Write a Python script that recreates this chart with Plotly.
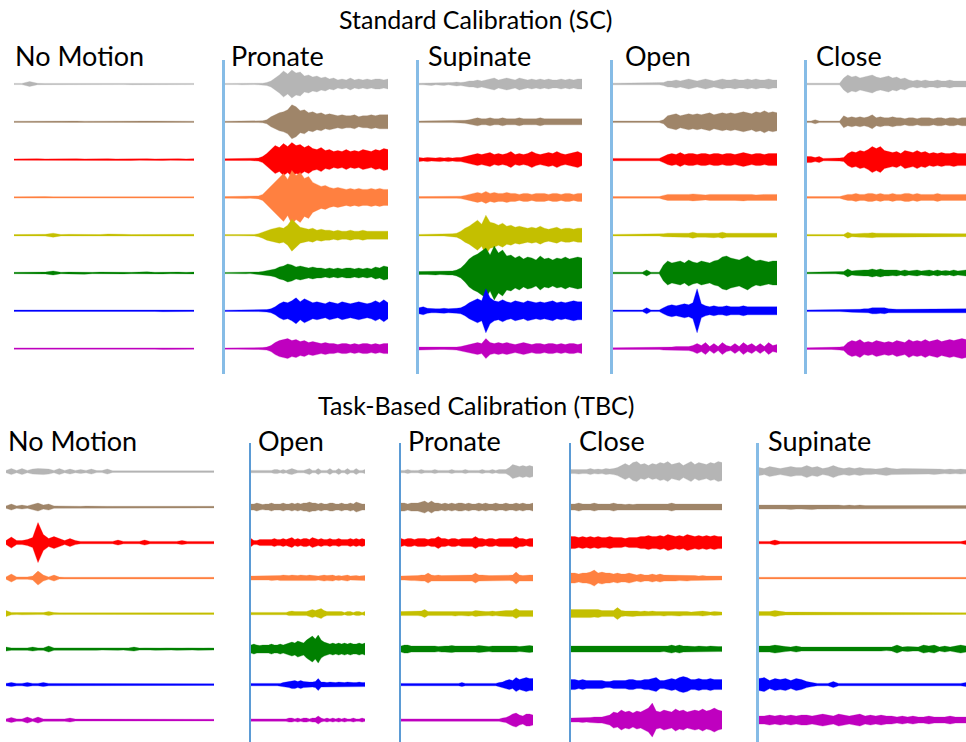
import plotly.graph_objects as go

W, H = 966, 742

# ---------------- data: EMG amplitude envelopes (half peak-to-peak, a.u.) ----------------
# each trace is sampled evenly over its recording window (normalised time 0..1)
CHANNELS = ["EMG 1", "EMG 2", "EMG 3", "EMG 4", "EMG 5", "EMG 6", "EMG 7", "EMG 8"]
SECTION_TITLES = ["Standard Calibration (SC)", "Task-Based Calibration (TBC)"]
SC_MOTIONS = ["No Motion", "Pronate", "Supinate", "Open", "Close"]
TBC_MOTIONS = ["No Motion", "Open", "Pronate", "Close", "Supinate"]

sc_no_motion = [
    [0.6, 0.6, 2.5, 0.7, 0.6, 0.6, 0.7, 0.6, 0.6, 0.7, 0.6, 0.6, 0.7, 0.6, 0.6, 0.7, 0.6, 0.6, 0.7, 0.6, 0.6, 0.6, 0.7, 0.6],
    [0.6, 0.7, 0.6, 0.7, 0.6, 0.7, 0.6, 0.7, 0.7, 0.6, 0.7, 0.6, 0.7, 0.7, 0.6, 0.7, 0.6, 0.7, 0.7, 0.6, 0.7, 0.6, 0.7, 0.6],
    [0.7, 0.9, 0.7, 0.9, 0.7, 0.9, 0.7, 0.9, 0.9, 0.7, 0.9, 0.7, 0.9, 0.7, 0.9, 0.9, 0.7, 0.9, 0.7, 0.9, 0.7, 0.9, 0.7, 0.9],
    [0.7, 0.9, 0.7, 0.9, 0.9, 0.7, 0.7, 0.9, 0.7, 0.9, 0.7, 0.9, 0.7, 0.9, 0.7, 0.7, 0.9, 0.9, 0.7, 0.9, 0.7, 0.9, 0.7, 0.7],
    [0.7, 0.9, 0.7, 0.7, 0.9, 2, 0.7, 0.9, 0.7, 0.7, 0.9, 0.7, 1.2, 0.7, 0.9, 0.7, 0.7, 0.9, 1.2, 0.7, 0.9, 0.7, 0.9, 0.9],
    [0.7, 0.9, 0.7, 0.7, 0.9, 2, 0.7, 0.9, 0.7, 1.2, 0.7, 0.9, 0.7, 0.7, 0.9, 0.7, 0.9, 1.2, 0.7, 0.9, 0.7, 0.9, 0.7, 0.9],
    [0.7, 0.7, 0.9, 0.7, 0.9, 0.7, 0.9, 0.7, 0.7, 0.9, 0.7, 0.9, 0.7, 0.7, 0.9, 0.7, 0.9, 0.7, 0.7, 0.9, 0.7, 0.7, 0.9, 0.7],
    [0.7, 0.7, 0.9, 0.7, 0.9, 0.7, 0.9, 0.7, 0.7, 0.9, 0.7, 0.9, 0.7, 0.7, 0.9, 0.7, 0.9, 0.7, 0.7, 0.9, 0.7, 0.7, 0.9, 0.7],
]
sc_pronate = [
    [0.6, 0.6, 0.6, 0.6, 0.8, 0.6, 0.8, 0.6, 0.8, 0.8, 1.5, 3, 6, 9, 13, 10, 14, 11, 12, 8, 9, 7, 8, 6, 7, 5, 6, 4, 5, 4, 6, 4, 5, 4, 5, 4, 5, 5, 4, 5],
    [0.6, 0.6, 0.6, 0.6, 0.6, 0.8, 0.6, 0.8, 0.8, 1, 2, 5, 7, 9, 10, 12, 17, 15, 11, 12, 9, 10, 8, 9, 7, 8, 7, 6, 7, 6, 6, 7, 5, 6, 6, 7, 6, 7, 7, 7],
    [0.8, 0.8, 0.8, 0.8, 0.8, 1, 0.8, 1, 1.5, 3, 6, 10, 14, 12, 16, 13, 17, 14, 15, 12, 14, 11, 10, 12, 9, 10, 8, 9, 8, 10, 8, 9, 8, 10, 9, 8, 10, 9, 11, 10],
    [0.8, 0.8, 0.8, 0.8, 0.8, 1, 0.8, 1, 1.5, 3, 7, 11, 16, 20, 24, 18, 27, 22, 25, 19, 21, 15, 13, 11, 12, 10, 9, 10, 9, 8, 9, 8, 9, 8, 8, 9, 8, 9, 8, 8],
    [0.6, 0.6, 0.6, 0.6, 0.6, 0.8, 0.6, 0.8, 1.5, 3, 5, 6, 7, 8, 7, 10, 16, 12, 8, 7, 6, 7, 5, 6, 5, 5, 4, 5, 4, 4, 5, 4, 4, 5, 4, 4, 4, 4, 4, 4],
    [0.6, 0.6, 0.6, 0.6, 0.6, 0.8, 0.6, 0.8, 1, 1.5, 2.5, 3, 4, 6, 7, 9, 8, 6, 7, 6, 5, 6, 5, 5, 4, 5, 4, 5, 4, 5, 5, 4, 5, 4, 5, 4, 6, 5, 7, 6],
    [0.6, 0.6, 0.6, 0.6, 0.6, 0.8, 0.6, 0.8, 0.8, 0.8, 1.2, 2, 4, 7, 9, 8, 10, 13, 9, 12, 10, 8, 9, 8, 7, 9, 8, 7, 9, 8, 7, 8, 9, 8, 7, 8, 10, 8, 11, 8],
    [0.6, 0.6, 0.6, 0.6, 0.6, 0.8, 0.6, 0.8, 0.8, 1, 1.5, 3, 6, 8, 9, 10, 8, 9, 7, 8, 6, 7, 6, 5, 6, 5, 5, 4, 5, 5, 4, 5, 4, 5, 5, 4, 5, 4, 5, 5],
]
sc_supinate = [
    [0.8, 0.8, 0.8, 1.5, 0.8, 0.8, 1.5, 0.8, 1.5, 2, 1.5, 2, 3, 3, 4, 3, 4, 5, 6, 4, 5, 6, 5, 4, 6, 5, 4, 5, 4, 5, 4, 5, 4, 4, 5, 4, 5, 4, 5, 5],
    [0.8, 0.8, 0.8, 0.8, 0.8, 0.8, 0.8, 0.8, 0.8, 0.8, 1.2, 1.5, 2, 3, 4, 3, 3, 4, 3, 3, 4, 3, 3, 3, 4, 3, 3, 3, 3, 4, 3, 3, 3, 3, 3, 3, 3, 3, 3, 3],
    [2, 1.5, 2, 1.5, 1.5, 2, 1.5, 2, 1.5, 2, 2, 3, 4, 5, 6, 5, 6, 7, 5, 6, 5, 6, 8, 5, 6, 5, 6, 8, 6, 5, 6, 7, 6, 8, 6, 5, 6, 7, 8, 6],
    [0.8, 0.8, 0.8, 0.8, 0.8, 0.8, 0.8, 0.8, 0.8, 0.8, 1.2, 2, 3, 4, 5, 4, 6, 4, 5, 4, 4, 5, 4, 4, 3, 4, 4, 3, 4, 4, 4, 3, 4, 4, 3, 4, 4, 3, 4, 4],
    [0.8, 0.8, 0.8, 0.8, 0.8, 0.8, 0.8, 1.2, 1.5, 2, 4, 7, 9, 12, 15, 11, 20, 13, 12, 10, 12, 9, 10, 8, 9, 8, 7, 8, 7, 9, 7, 6, 7, 8, 6, 7, 7, 6, 7, 7],
    [1.5, 1.5, 1.5, 1.5, 2, 1.5, 1.5, 2, 2, 3, 5, 9, 14, 17, 19, 22, 25, 18, 27, 20, 23, 17, 18, 15, 17, 14, 16, 15, 13, 17, 14, 15, 13, 15, 14, 16, 14, 15, 16, 15],
    [3, 4, 2.5, 2, 2, 2, 2.5, 2, 2, 2.5, 3, 5, 8, 10, 12, 10, 22, 13, 10, 9, 11, 9, 8, 10, 9, 8, 10, 9, 8, 9, 8, 9, 10, 8, 9, 8, 9, 10, 9, 9],
    [1.5, 1.5, 0.8, 0.8, 0.8, 0.8, 0.8, 0.8, 1.2, 1.5, 2, 3, 4, 5, 6, 5, 10, 6, 5, 6, 5, 6, 5, 4, 5, 6, 5, 4, 5, 5, 4, 5, 5, 4, 5, 4, 5, 5, 4, 5],
]
sc_open = [
    [0.8, 0.8, 0.8, 0.8, 0.8, 0.8, 0.8, 0.8, 0.8, 0.8, 0.8, 0.8, 1.5, 3, 3, 4, 3, 4, 5, 4, 3, 4, 5, 4, 3, 4, 5, 4, 4, 5, 4, 4, 5, 4, 5, 4, 4, 5, 4, 4],
    [0.8, 0.8, 0.8, 0.8, 0.8, 0.8, 0.8, 0.8, 0.8, 0.8, 0.8, 0.8, 2, 6, 7, 8, 6, 7, 8, 7, 8, 7, 8, 9, 7, 8, 9, 8, 9, 8, 9, 10, 9, 8, 10, 9, 11, 9, 10, 9],
    [1.2, 1.2, 1.2, 1.2, 1.2, 1.2, 1.2, 1.2, 1.2, 1.2, 1.2, 1.2, 3, 5, 6, 5, 7, 5, 6, 6, 5, 6, 6, 5, 6, 6, 5, 6, 6, 5, 6, 7, 6, 5, 6, 6, 5, 6, 6, 6],
    [0.8, 0.8, 0.8, 0.8, 0.8, 0.8, 0.8, 0.8, 0.8, 0.8, 0.8, 0.8, 2, 3, 3, 3, 2.5, 3, 3, 3.5, 3, 3, 2.5, 3, 3, 3.5, 3, 3, 3, 3, 3, 3.5, 3, 3, 2.5, 3, 3, 3, 3, 3],
    [0.8, 0.8, 0.8, 0.8, 0.8, 0.8, 0.8, 0.8, 0.8, 0.8, 0.8, 0.8, 1.5, 2, 2, 2, 2, 2, 2, 3, 2, 2, 2, 2, 2.5, 2, 3, 2, 2, 2, 2, 2, 2, 2, 2, 2, 2, 2, 2, 2],
    [0.8, 0.8, 0.8, 0.8, 0.8, 0.8, 0.8, 0.8, 3, 0.8, 0.8, 0.8, 8, 12, 10, 11, 12, 10, 13, 11, 10, 12, 11, 10, 12, 13, 16, 17, 15, 14, 13, 15, 17, 14, 12, 13, 12, 11, 12, 12],
    [0.8, 0.8, 0.8, 0.8, 0.8, 0.8, 0.8, 0.8, 3, 0.8, 0.8, 0.8, 3, 5, 6, 5, 6, 7, 6, 8, 22, 7, 5, 4, 5, 4, 4, 5, 4, 4, 4, 5, 4, 4, 4, 4, 4, 4, 4, 4],
    [0.8, 0.8, 0.8, 0.8, 0.8, 0.8, 0.8, 0.8, 0.8, 0.8, 0.8, 0.8, 1.5, 1.5, 1.5, 2, 2, 2, 2, 3, 5, 3, 6, 2, 5, 2, 6, 3, 2, 5, 2, 6, 3, 5, 2, 5, 2, 6, 3, 4],
]
sc_close = [
    [0.8, 0.8, 0.8, 0.8, 0.8, 0.8, 0.8, 0.8, 0.8, 6, 9, 7, 8, 6, 7, 8, 9, 7, 6, 7, 8, 6, 7, 5, 6, 4, 3, 4, 3, 4, 3, 3, 4, 3, 3, 4, 3, 3, 3, 3],
    [0.8, 0.8, 2, 0.8, 0.8, 0.8, 0.8, 0.8, 0.8, 6, 4, 5, 4, 5, 4, 5, 7, 4, 5, 4, 4, 5, 4, 4, 3, 4, 4, 3, 4, 4, 4, 3, 4, 4, 3, 4, 4, 3, 4, 4],
    [3, 3, 2, 3, 1.2, 1.2, 1.2, 1.2, 1.5, 2, 6, 8, 7, 9, 8, 10, 13, 11, 13, 9, 8, 7, 8, 6, 9, 8, 7, 9, 7, 8, 6, 7, 6, 7, 6, 6, 7, 6, 6, 6],
    [0.8, 0.8, 0.8, 0.8, 0.8, 0.8, 0.8, 0.8, 0.8, 2, 3, 3, 4, 3, 3, 4, 4, 3, 4, 3, 3, 4, 3, 3, 4, 4, 3, 4, 3, 3, 3, 3, 4, 3, 3, 3, 3, 3, 3, 3],
    [0.8, 0.8, 0.8, 0.8, 0.8, 0.8, 0.8, 0.8, 0.8, 0.8, 3, 1.5, 1.5, 2, 2, 2, 2.5, 2, 2, 2, 1.5, 2, 1.5, 1.5, 2, 1.5, 2, 1.5, 1.5, 2, 1.5, 2, 1.5, 1.5, 2, 1.5, 1.5, 2, 1.5, 1.5],
    [0.8, 0.8, 0.8, 0.8, 0.8, 0.8, 0.8, 0.8, 0.8, 1.5, 4, 2, 2.5, 3, 3, 3, 4, 3, 4, 3, 3, 2.5, 3, 2, 3, 2, 2.5, 3, 2, 2.5, 3, 2, 3, 2, 2.5, 2, 3, 2, 2.5, 3],
    [0.8, 0.8, 0.8, 0.8, 0.8, 0.8, 0.8, 0.8, 0.8, 0.8, 1.2, 1.5, 1.5, 1.5, 2, 2, 3, 3, 2.5, 3, 2, 1.5, 1.5, 1.5, 1.5, 2, 1.5, 1.5, 1.5, 1.5, 2, 1.5, 1.5, 1.5, 2, 1.5, 1.5, 2, 2, 2],
    [0.8, 0.8, 0.8, 0.8, 0.8, 0.8, 0.8, 0.8, 1.5, 2, 6, 8, 7, 9, 6, 7, 6, 8, 7, 6, 7, 6, 8, 7, 6, 9, 7, 8, 7, 9, 7, 8, 9, 7, 8, 9, 8, 9, 10, 9],
]

tbc_no_motion = [
    [1.2, 3, 1.2, 3, 1.2, 2.5, 3, 3, 2.5, 1.2, 3, 1.2, 2.5, 1.2, 2, 1.2, 2.5, 1, 1, 2.5, 0.8, 0.8, 0.8, 0.8, 0.8, 0.8, 0.8, 0.8, 0.8, 0.8, 0.8, 0.8, 0.8, 0.8, 0.8, 0.8, 0.8, 0.8, 0.8, 0.8],
    [1.2, 3, 1.2, 2, 1.2, 2.5, 4, 2, 3, 1.2, 1, 0.8, 1, 0.8, 0.8, 1, 0.8, 0.8, 1, 0.8, 0.8, 0.8, 1, 0.8, 0.8, 0.8, 1, 0.8, 0.8, 0.8, 0.8, 1, 0.8, 0.8, 0.8, 0.8, 0.8, 0.8, 0.8, 0.8],
    [2, 5.5, 2, 2, 3, 5, 20, 8, 4, 6, 4, 2, 4, 2, 1.2, 1.2, 1.2, 1.2, 1.2, 1.2, 1.2, 2.5, 1.2, 1.2, 1.2, 1.2, 2.5, 1.2, 1.2, 1.2, 1.2, 1.2, 1.2, 2, 1.2, 1.2, 1.2, 1.2, 1.2, 1.2],
    [1.2, 4, 1.2, 1.2, 1.2, 2, 7, 3, 1.2, 3, 1, 0.8, 1, 0.8, 0.8, 0.8, 1, 0.8, 0.8, 0.8, 0.8, 0.8, 0.8, 0.8, 0.8, 0.8, 0.8, 0.8, 0.8, 0.8, 0.8, 0.8, 0.8, 0.8, 0.8, 0.8, 0.8, 0.8, 0.8, 0.8],
    [3, 1.2, 1, 1.2, 1, 1.2, 1, 1, 2, 1, 0.8, 0.8, 0.8, 0.8, 0.8, 0.8, 0.8, 0.8, 0.8, 0.8, 0.8, 0.8, 0.8, 0.8, 0.8, 0.8, 0.8, 0.8, 0.8, 0.8, 0.8, 0.8, 0.8, 0.8, 0.8, 0.8, 0.8, 0.8, 0.8, 0.8],
    [2, 1.2, 1.2, 1.2, 1.2, 2, 1.2, 1.2, 3, 1.2, 1.2, 1, 1.2, 1, 1.2, 1, 1.2, 1.2, 1, 1.2, 1, 1.2, 1, 1.2, 2, 1, 1.2, 1, 1.2, 1, 1.2, 1, 1.2, 1, 1.2, 1, 1.2, 1, 1.2, 1],
    [1.2, 2, 1.2, 1.2, 2, 1.2, 1.2, 2, 1.2, 1.2, 1, 0.8, 1, 0.8, 0.8, 1, 0.8, 1, 0.8, 0.8, 1, 0.8, 0.8, 1, 0.8, 0.8, 1, 0.8, 0.8, 1, 0.8, 0.8, 1, 0.8, 0.8, 0.8, 0.8, 0.8, 0.8, 0.8],
    [1.2, 2.5, 1.2, 1.2, 3, 1.2, 3, 1.2, 1.2, 1.2, 1.2, 1.2, 2, 1, 1, 1, 0.8, 0.8, 0.8, 0.8, 0.8, 0.8, 0.8, 0.8, 0.8, 0.8, 0.8, 0.8, 0.8, 0.8, 0.8, 0.8, 0.8, 0.8, 0.8, 0.8, 0.8, 0.8, 0.8, 0.8],
]
tbc_open = [
    [1.2, 1.2, 1.2, 1.2, 1.2, 1.2, 1.2, 1.2, 2, 2, 1.2, 2, 1.2, 2.5, 3, 2, 1.2, 1.2, 1.2, 2, 3, 1.2, 1.2, 3, 1.2, 1.2, 1.2, 3, 1.2, 1.2, 3, 1.2, 1.2, 3, 1.2, 1.2, 3, 1.2, 1.2, 2],
    [3, 3, 4, 3, 2.5, 3, 3, 4, 3, 3, 3, 4, 3, 3, 4, 3, 4, 3, 4, 4, 5, 4, 4, 3, 4, 3, 3, 4, 4, 3, 3, 4, 3, 3, 4, 3, 5, 4, 3, 3],
    [4, 2, 2, 3, 3, 3, 3, 3, 4, 3, 3, 4, 3, 4, 5, 3, 4, 3, 4, 4, 3, 5, 4, 3, 4, 3, 3, 4, 3, 3, 4, 3, 3, 3, 4, 3, 4, 3, 4, 3],
    [2, 2, 2.5, 2, 2.5, 2, 2, 2.5, 2.5, 2, 2.5, 3, 2.5, 2.5, 3, 2.5, 2.5, 3, 2.5, 2.5, 3, 2.5, 2.5, 2, 2.5, 3, 2.5, 2.5, 3, 2, 2.5, 2, 2.5, 3, 2, 2.5, 2.5, 2, 2.5, 2.5],
    [1.2, 1.2, 1.2, 1.2, 1.2, 1.2, 1.2, 1.2, 1.2, 1.2, 1.2, 1.2, 1.2, 2, 2.5, 2, 2, 2, 2, 2, 3, 4, 3, 4, 5, 3, 2, 2, 2, 2, 2, 2, 1.2, 2, 2, 1.2, 2, 2, 1.2, 2],
    [4, 5, 4, 3.5, 4, 4, 4, 5, 4, 4, 5, 4, 5, 6, 7, 6, 8, 7, 6, 9, 11, 13, 10, 14, 9, 7, 6, 5, 6, 5, 6, 5, 6, 5, 6, 5, 5, 6, 5, 6],
    [1.2, 1.2, 1.2, 1.2, 1.2, 1.2, 1.2, 1.2, 1.2, 1.2, 1.2, 2, 2.5, 3, 4, 4, 3, 4, 3, 2.5, 2.5, 2.5, 3, 6, 2.5, 2.5, 2, 2.5, 2, 2, 2.5, 2, 2, 2.5, 2, 2, 2, 2.5, 2, 2],
    [1.2, 1.2, 1.2, 1.2, 1.2, 1.2, 1.2, 1.2, 1.2, 1.2, 1.2, 1.2, 1.2, 2, 2, 1.2, 2, 1.2, 2, 2, 1.2, 2, 2, 4, 2, 1.2, 2, 1.2, 2, 1.2, 2, 1.2, 2, 1.2, 1.2, 2, 1.2, 1.2, 2, 1.2],
]
tbc_pronate = [
    [1.2, 1.2, 2, 1.2, 1.2, 1.2, 2, 1.2, 1.2, 1.2, 2, 1.2, 1.2, 1.2, 1.2, 2, 1.2, 1.2, 1.2, 2, 1.2, 1.2, 1.2, 1.2, 2, 1.2, 1.2, 2, 1.2, 2, 2, 2, 4, 7, 6, 5, 6, 5, 6, 5],
    [4, 4, 3, 4, 4, 4, 5, 6, 4, 6, 4, 4, 3, 4, 3, 4, 3, 4, 4, 3, 4, 3, 3, 4, 3, 4, 3, 3, 4, 3, 3, 4, 3, 3, 4, 3, 4, 3, 3, 4],
    [4, 3, 4, 4, 3, 4, 4, 4, 3, 4, 4, 6, 4, 4, 3, 4, 4, 3, 4, 4, 4, 4, 6, 4, 4, 3, 4, 4, 3, 4, 4, 4, 4, 4, 6, 4, 4, 3, 4, 4],
    [2, 2, 2, 2.5, 2.5, 2.5, 3, 3, 5, 3, 2.5, 3, 2.5, 2.5, 2.5, 2.5, 2.5, 3, 2.5, 3, 3, 3, 5, 3, 3, 2.5, 2.5, 2.5, 2.5, 2.5, 2.5, 2.5, 2.5, 3, 6, 3, 2.5, 3, 3, 3],
    [2, 2, 2, 2, 2, 2, 2.5, 4, 2, 2, 2, 2, 2, 2, 2, 2, 2.5, 2, 2, 2, 2.5, 2, 3, 2.5, 2, 2, 2, 2.5, 2, 2.5, 2.5, 3, 3, 3, 5, 3, 3, 3, 3, 3],
    [3, 4, 4, 3, 3, 3, 3, 3.5, 3, 3, 3, 2.5, 3, 3, 3, 3.5, 3, 3, 2.5, 3, 3, 3, 3, 3.5, 3, 3, 2.5, 3, 3, 3, 3, 3, 3.5, 3, 3, 2.5, 3, 3, 3.5, 3],
    [1.2, 1.2, 1.2, 1.2, 1.2, 1.2, 1.2, 1.2, 1.2, 1.2, 1.2, 1.2, 1.2, 1.2, 1.2, 1.2, 1.2, 1.2, 2, 1.2, 1.2, 1.2, 1.2, 1.2, 1.2, 1.2, 1.2, 1.2, 1.2, 2, 2.5, 4, 5, 4, 7, 5, 6, 7, 6, 6],
    [1.2, 1.2, 1.2, 1.2, 1.2, 1.2, 1.2, 1.2, 1.2, 1.2, 1.2, 1.2, 1.2, 1.2, 1.2, 1.2, 1.2, 1.2, 1.2, 1.2, 1.2, 1.2, 1.2, 1.2, 1.2, 1.2, 1.2, 1.2, 1.2, 1.2, 2, 2.5, 4, 6, 7, 5, 4, 6, 6, 5],
]
tbc_close = [
    [2, 2, 2.5, 2, 2, 3, 2, 2.5, 2, 3, 2.5, 3, 4, 6, 8, 6, 9, 10, 7, 8, 6, 8, 7, 9, 8, 10, 7, 8, 9, 6, 8, 10, 7, 9, 8, 7, 9, 8, 10, 9],
    [3, 3, 4, 3, 3, 3, 4, 3, 3, 3, 3, 4, 3, 3, 2.5, 3, 2.5, 3, 3, 3, 3, 3, 2.5, 3, 3, 3, 4, 3, 3, 3, 3, 3, 3, 3, 3, 2.5, 3, 3, 3, 3],
    [6, 6, 5, 6, 5, 6, 5, 6, 5, 5, 6, 5, 5, 5, 4, 5, 5, 5, 6, 6, 7, 6, 6, 7, 6, 8, 7, 6, 7, 6, 8, 7, 6, 7, 6, 7, 6, 7, 6, 6],
    [5, 5, 4, 5, 5, 6, 8, 5, 6, 5, 5, 4, 5, 4, 4, 5, 4, 3, 4, 3, 3, 4, 3, 4, 3, 3, 3, 3, 2.5, 2.5, 3, 2.5, 2.5, 2, 2.5, 2, 2, 2, 2, 2],
    [4, 4, 4, 3.5, 4, 4, 3.5, 4, 3, 3, 3, 3, 6, 3, 2.5, 2.5, 3, 2.5, 2, 2.5, 2, 2.5, 2, 2, 2.5, 2, 2, 2, 2.5, 2, 2, 1.5, 2, 2, 2.5, 2, 1.5, 2, 2, 1.5],
    [3, 3, 3, 3, 3, 2.5, 3, 2.5, 2.5, 3, 2.5, 2.5, 3, 2.5, 3, 2.5, 2.5, 3, 3, 2.5, 3, 2.5, 3, 3, 2.5, 3, 4, 3, 4, 3, 3, 2.5, 2.5, 3, 2.5, 2.5, 3, 2.5, 2.5, 2.5],
    [5, 5, 4, 5, 4, 4, 4, 4, 4, 3, 3, 4, 4, 4, 4, 5, 5, 4, 4, 5, 5, 6, 7, 4, 4, 5, 6, 5, 7, 8, 7, 5, 5, 6, 5, 5, 6, 5, 5, 5],
    [2, 2, 2, 2.5, 2, 2.5, 3, 3, 3, 4, 5, 8, 7, 10, 8, 9, 7, 9, 8, 10, 12, 17, 9, 8, 10, 9, 8, 11, 9, 10, 8, 9, 10, 9, 11, 9, 10, 12, 10, 9],
]
tbc_supinate = [
    [4, 3, 5, 4, 3, 4, 5, 4, 4, 6, 4, 5, 3, 4, 6, 4, 3, 4, 3, 4, 3, 3, 2.5, 3, 4, 3, 2.5, 3, 3, 2.5, 3, 2.5, 2.5, 3, 2.5, 2, 2.5, 2, 2.5, 2],
    [2, 2, 2.5, 2, 2, 2, 2.5, 2, 2, 2, 2.5, 2, 2, 2, 2, 2, 1.5, 2, 1.5, 2, 1.5, 1.5, 2, 1.5, 1.5, 2, 1.5, 1.5, 1.5, 2, 1.5, 1.5, 1.5, 1.5, 2, 1.5, 1.5, 1.5, 1.5, 1.5],
    [1.2, 1.2, 1.2, 2.5, 1.2, 1, 1, 1, 1, 1, 1, 1, 1, 1, 1, 1, 1, 1, 1, 1, 1, 1, 1, 1, 1, 1, 1, 1, 1, 1, 1, 1, 1, 1, 1, 1, 1, 1, 1, 2],
    [0.8, 0.8, 1, 0.8, 0.8, 1, 0.8, 0.8, 0.8, 1, 0.8, 0.8, 0.8, 0.8, 1, 0.8, 0.8, 0.8, 0.8, 0.8, 1, 0.8, 0.8, 0.8, 0.8, 0.8, 0.8, 1, 0.8, 0.8, 0.8, 0.8, 0.8, 0.8, 0.8, 0.8, 0.8, 0.8, 0.8, 0.8],
    [2, 2, 2, 3, 2, 1.5, 1.5, 1.5, 1.5, 1.5, 1, 1, 1, 1, 1, 0.8, 0.8, 1, 0.8, 0.8, 0.8, 1, 0.8, 0.8, 0.8, 0.8, 1, 0.8, 0.8, 0.8, 0.8, 0.8, 1, 0.8, 0.8, 0.8, 0.8, 0.8, 0.8, 0.8],
    [3, 3, 3, 4, 3, 2.5, 2, 3, 2, 2, 2, 1.5, 2, 1.5, 2, 1.5, 2, 1.5, 2, 1.5, 2, 1.5, 2, 2, 1.5, 2, 4, 2, 2.5, 2, 2, 4, 3, 4, 2, 3, 2, 3, 4, 3],
    [6, 7, 4, 6, 5, 6, 4, 6, 5, 3, 2, 1.2, 1.2, 1.2, 3, 1.2, 1.2, 1.2, 1.2, 1.2, 1.2, 1.2, 1.2, 1.2, 1.2, 1.2, 1.2, 1.2, 1.2, 1.2, 1.2, 1.2, 1.2, 1.2, 1.2, 1.2, 1.2, 1.2, 1.2, 2],
    [4, 4, 5, 4, 5, 4, 5, 4, 5, 5, 4, 5, 6, 5, 4, 6, 5, 4, 5, 6, 4, 5, 4, 5, 4, 4, 3, 4, 3, 4, 3, 3, 4, 3, 3, 3, 4, 3, 3, 3],
]

# ---------------- styles / layout ----------------
COLORS = ["#b5b5b5", "#9f8569", "#ff0000", "#ff8040", "#c4bf00", "#008000", "#0000ff", "#bf00bf"]
FONT = "Lato"
LIGHT_BLUE, MID_BLUE = "#86bce6", "#5b9bd5"

# (section, title, data, x-start px, x-end px, axis line (color, width) or None, label x px)
panels = [
    (0, SC_MOTIONS[0], sc_no_motion, 14, 194, None, 13),
    (0, SC_MOTIONS[1], sc_pronate, 225, 388, (LIGHT_BLUE, 3), 229),
    (0, SC_MOTIONS[2], sc_supinate, 419, 582, (LIGHT_BLUE, 3), 426),
    (0, SC_MOTIONS[3], sc_open, 613, 777, (LIGHT_BLUE, 3), 623),
    (0, SC_MOTIONS[4], sc_close, 807, 966, (LIGHT_BLUE, 3), 814),
    (1, TBC_MOTIONS[0], tbc_no_motion, 6, 214, None, 6),
    (1, TBC_MOTIONS[1], tbc_open, 251, 365, (MID_BLUE, 2), 256),
    (1, TBC_MOTIONS[2], tbc_pronate, 401, 533, (MID_BLUE, 2), 406),
    (1, TBC_MOTIONS[3], tbc_close, 571, 722, (MID_BLUE, 2), 577),
    (1, TBC_MOTIONS[4], tbc_supinate, 759, 966, (LIGHT_BLUE, 3), 766),
]
# section geometry in px: (panel top, panel bottom, first baseline, channel spacing, label y, title y)
SECT = [
    (60, 374, 84.0, 37.8, 56, 19),
    (443, 742, 471.6, 35.5, 440, 405),
]

fig = go.Figure()
for i, (sec, title, data, x0, x1, line, lx) in enumerate(panels):
    n = i + 1
    xa = "x" if n == 1 else f"x{n}"
    ya = "y" if n == 1 else f"y{n}"
    top, bot, b0, sp, ly, ty = SECT[sec]
    for k, amps in enumerate(data):
        base = -k * sp
        m = len(amps) - 1
        t = [j / m for j in range(len(amps))]
        xs = t + t[::-1] + [t[0]]
        ys = [base + a for a in amps] + [base - a for a in amps[::-1]] + [base + amps[0]]
        fig.add_trace(go.Scatter(
            x=xs, y=ys, xaxis=xa, yaxis=ya, mode="lines", fill="toself",
            fillcolor=COLORS[k], line=dict(color=COLORS[k], width=0.3),
            name=f"{title} {CHANNELS[k]}", showlegend=False, hoverinfo="skip",
        ))
    xkey = "xaxis" if n == 1 else f"xaxis{n}"
    ykey = "yaxis" if n == 1 else f"yaxis{n}"
    fig.layout[xkey] = dict(
        domain=[x0 / W, x1 / W], range=[0, 1], anchor=ya,
        visible=False, fixedrange=True,
    )
    ycfg = dict(
        domain=[1 - bot / H, 1 - top / H], range=[-(bot - b0), -(top - b0)], anchor=xa,
        showline=line is not None, showgrid=False, zeroline=False,
        showticklabels=False, ticks="", fixedrange=True,
    )
    if line is not None:
        ycfg.update(linecolor=line[0], linewidth=line[1])
    fig.layout[ykey] = ycfg
    fig.add_annotation(text=title, x=lx / W, y=1 - ly / H, xref="paper", yref="paper",
                       xanchor="left", yanchor="middle", showarrow=False,
                       font=dict(family=FONT, size=27, color="black"))

for sec, t in enumerate(SECTION_TITLES):
    fig.add_annotation(text=t, x=476 / W, y=1 - SECT[sec][5] / H, xref="paper", yref="paper",
                       xanchor="center", yanchor="middle", showarrow=False,
                       font=dict(family=FONT, size=25, color="black"))

fig.update_layout(
    width=W, height=H, margin=dict(l=0, r=0, t=0, b=0),
    paper_bgcolor="white", plot_bgcolor="rgba(0,0,0,0)", showlegend=False,
)
fig.write_html("out.html", config={"displayModeBar": False},
               post_script="document.body.style.margin='0';document.body.style.overflow='hidden';")
